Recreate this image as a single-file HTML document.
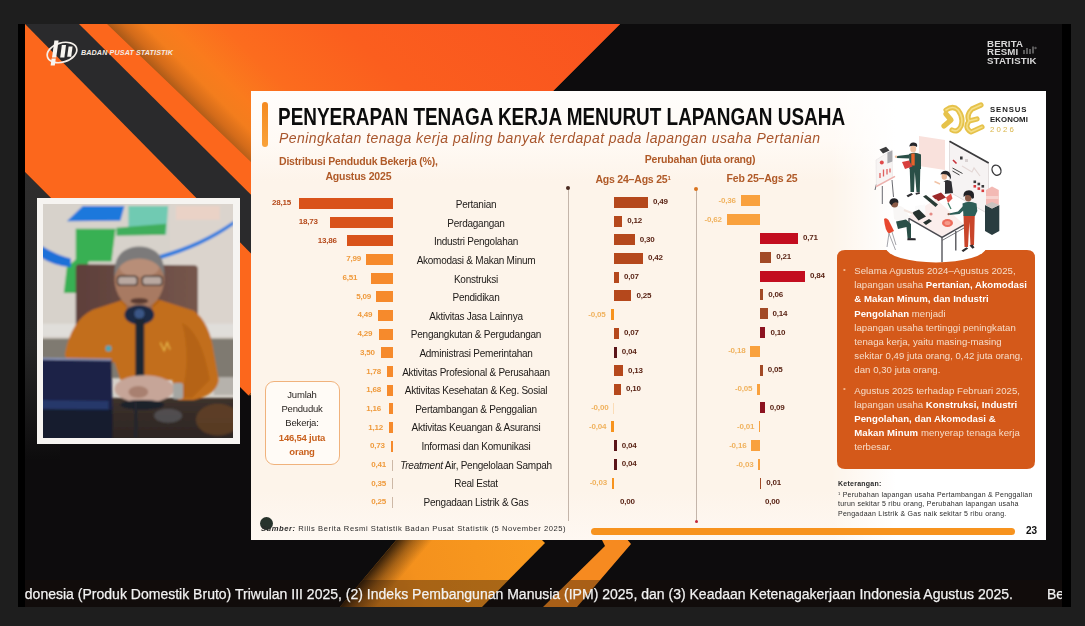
<!DOCTYPE html>
<html><head><meta charset="utf-8"><title>BPS</title>
<style>
*{margin:0;padding:0;box-sizing:border-box}
html,body{width:1085px;height:626px;overflow:hidden;background:#1e1e1e}
body{position:relative;font-family:"Liberation Sans",sans-serif}
.abs{position:absolute}
#bg{position:absolute;left:0;top:0}
#slide{position:absolute;left:251px;top:91px;width:795px;height:449px;background:linear-gradient(#fffdfb 0,#fffaf5 50px,#fdf4ea 90px,#fdf4ea 400px,#fef8f2 449px);overflow:hidden}
#chart{position:absolute;left:0;top:0;width:1085px;height:626px;filter:blur(0.6px)}
.b{position:absolute;height:11px}
.v{position:absolute;font-size:8px;font-weight:bold;line-height:10px;white-space:nowrap;letter-spacing:-0.2px}
.v.r{text-align:right}
.lab{position:absolute;left:376px;width:200px;text-align:center;font-size:10px;line-height:13px;color:#1d1a18;white-space:nowrap;letter-spacing:-0.25px}
.t{position:absolute;white-space:nowrap}
</style></head><body>
<svg id="bg" width="1085" height="626" viewBox="0 0 1085 626">
<defs>
<linearGradient id="gfold" gradientUnits="userSpaceOnUse" x1="107" y1="24" x2="367" y2="-236">
<stop offset="0" stop-color="#a85818"/><stop offset="0.03" stop-color="#d36b1a"/><stop offset="0.07" stop-color="#f37d1d"/><stop offset="0.12" stop-color="#fa7b1d"/><stop offset="0.22" stop-color="#fc6c1e"/><stop offset="0.45" stop-color="#fb5e1e"/><stop offset="1" stop-color="#f9531f"/>
</linearGradient>
<linearGradient id="gleft" x1="0" y1="0" x2="0" y2="1"><stop offset="0" stop-color="#2e2d2d"/><stop offset="0.6" stop-color="#262626"/><stop offset="1" stop-color="#0d0c0d"/></linearGradient>
<linearGradient id="gshad" gradientUnits="userSpaceOnUse" x1="398" y1="538" x2="419.4" y2="556"><stop offset="0" stop-color="#140c06" stop-opacity="0.85"/><stop offset="0.5" stop-color="#3a220c" stop-opacity="0.4"/><stop offset="1" stop-color="#3a220c" stop-opacity="0"/></linearGradient>
<linearGradient id="gchev" gradientUnits="userSpaceOnUse" x1="350" y1="600" x2="540" y2="540"><stop offset="0" stop-color="#d97e1a"/><stop offset="0.35" stop-color="#f4911d"/><stop offset="1" stop-color="#fa9b1f"/></linearGradient>
</defs>
<rect x="18" y="24" width="1053" height="583" fill="#0d0c0d"/>
<polygon points="25,172 60,207 60,460 25,460" fill="url(#gleft)"/>
<polygon points="25,24 620,24 248.5,395.5 25,172" fill="#fc671c"/>
<polygon points="107,24 620,24 248.5,395.5 252,395 252,163" fill="url(#gfold)"/>
<polygon points="25,24 79,24 252,195.7 252,254.4" fill="#2a2a2c"/>
<rect x="25" y="178" width="230" height="430" fill="none"/>
<!-- bottom chevrons -->
<polygon points="398,538 540,538 545,543 482,607 340,607" fill="url(#gchev)"/>
<polygon points="398,538 440,538 382,607 340,607" fill="url(#gshad)"/>
<polygon points="601,538 626,538 631,544 577,607 543,607 605,546" fill="#f68a20"/>
<rect x="25" y="580" width="1037" height="27" fill="#1a0f08" opacity="0.35"/>
<rect x="18" y="24" width="7" height="583" fill="#000"/>
<rect x="1062" y="24" width="9" height="583" fill="#000"/>
</svg>

<!-- BPS logo text -->
<div class="t" style="left:81px;top:47.5px;font-size:7.2px;line-height:9px;font-weight:bold;font-style:italic;color:#f3ece6;letter-spacing:0.1px">BADAN PUSAT STATISTIK</div>
<svg class="abs" style="left:45px;top:38.5px" width="34" height="28" viewBox="0 0 34 28">
<ellipse cx="17" cy="13.5" rx="15.2" ry="9.6" fill="none" stroke="#f4efe9" stroke-width="1.7" transform="rotate(-17 17 13.5)"/>
<g fill="#f8f5f0"><polygon points="9.4,1.6 13.6,1.6 11.2,18.6 7,18.6"/><polygon points="16.8,6 21,6 19.4,18.6 15.2,18.6"/><polygon points="23.6,7.4 27.6,7.4 26.2,17.8 22.2,17.8"/><polygon points="6.6,19.6 10.8,19.6 9.8,26.6 5.6,26.6"/></g>
</svg>

<!-- BRS logo -->
<div class="t" style="left:987px;top:39.6px;font-size:8.6px;line-height:8.8px;font-weight:bold;color:#d8d8d8;letter-spacing:0.1px;transform-origin:0 0;transform:scaleX(1.13)" id="brs">BERITA<br>RESMI<br>STATISTIK</div>

<svg class="abs" style="left:1022px;top:45px" width="16" height="11" viewBox="0 0 16 11"><g fill="#5a5a5a"><rect x="1" y="5" width="2" height="4"/><rect x="4" y="3" width="2" height="6"/><rect x="7" y="4" width="2" height="5"/><rect x="10" y="1.5" width="2" height="7"/><circle cx="13.5" cy="3" r="1.2"/></g></svg>
<!-- webcam -->
<div class="abs" style="left:36.5px;top:197.5px;width:203.5px;height:246.5px;background:#f6f4f1"></div>
<svg class="abs" style="left:42.8px;top:203.6px" width="190.7" height="234.5" viewBox="0 0 192 237" preserveAspectRatio="none">
<defs><filter id="bl" x="-5%" y="-5%" width="110%" height="110%"><feGaussianBlur stdDeviation="1.1"/></filter>
<linearGradient id="gchair" x1="0" y1="0" x2="1" y2="0"><stop offset="0" stop-color="#5d3f3a"/><stop offset="1" stop-color="#76564c"/></linearGradient>
<linearGradient id="gtable" x1="0" y1="0" x2="0" y2="1"><stop offset="0" stop-color="#3d312c"/><stop offset="1" stop-color="#2a2421"/></linearGradient>
<clipPath id="cc"><rect width="192" height="237"/></clipPath>
</defs>
<rect width="192" height="237" fill="#d6d1ca"/>
<g filter="url(#bl)" clip-path="url(#cc)">
<rect x="-5" y="-5" width="202" height="150" fill="#d7d2cb"/>
<rect x="128" y="-5" width="70" height="140" fill="#dbd4cd"/>
<rect x="134" y="2" width="44" height="14" fill="#ead2c6"/>
<!-- logo pieces -->
<polygon points="40,2 82,2 78,17 24,17.5" fill="#1f78dc"/>
<polygon points="86,2 126,2 124,31 86,31" fill="#6fcab2"/>
<polygon points="74,24 124,20 123,31 74,32" fill="#3fae5c"/>
<polygon points="33,25 73,25 69,58 33,58" fill="#37b052"/>
<polygon points="33,56 47,56 33,90 21,90 24,64" fill="#37b052"/>
<path d="M-2,42 Q14,52 28,55 L28,64 Q10,62 -2,54Z" fill="#1c70d8"/>
<path d="M116,52 Q160,40 192,17 L192,21 Q160,44 117,56Z" fill="#2a7cde"/>
<!-- ledge & lower wall -->
<rect x="-5" y="121" width="202" height="13" fill="#e0deda"/>
<rect x="-5" y="136" width="202" height="40" fill="#7f7a71"/>
<rect x="172" y="175" width="25" height="18" fill="#b6b2ac"/>
<!-- chair -->
<path d="M33,64 Q33,61 37,61 L152,62 Q156,62 156,66 L156,160 L33,160Z" fill="url(#gchair)"/>
<!-- table -->
<rect x="-5" y="196" width="202" height="46" fill="url(#gtable)"/>
<ellipse cx="176" cy="218" rx="22" ry="16" fill="#7a4a24" opacity="0.55"/>
<ellipse cx="126" cy="214" rx="14" ry="7" fill="#6c7078" opacity="0.5"/>
<!-- shirt -->
<path d="M22,152 Q28,118 50,107 L80,97 L118,97 L152,108 Q168,120 172,150 L177,178 Q175,193 152,198 L136,198 L130,178 L78,178 L72,160 L24,158Z" fill="#c26e1b"/>
<path d="M140,120 Q160,130 168,178 L150,196 L138,196 Q150,160 140,120Z" fill="#b56416"/>
<path d="M78,98 L96,118 L118,98 L110,92 L84,92Z" fill="#b3620f"/>
<path d="M118,140 l4,8 l3,-8 l3,7" stroke="#e8b84a" stroke-width="1.2" fill="none"/>
<circle cx="66" cy="146" r="3" fill="#4aa6b8"/>
<!-- neck / head -->
<rect x="84" y="92" width="26" height="14" fill="#9a6c54"/>
<ellipse cx="97" cy="76" rx="25" ry="30" fill="#a87a62"/>
<ellipse cx="97" cy="64" rx="20" ry="10" fill="#b88e78"/>
<path d="M72,74 Q70,44 97,43 Q124,44 122,74 Q118,56 97,55 Q76,56 72,74Z" fill="#7c7a7a"/>
<rect x="75" y="73" width="20" height="9" rx="3" fill="#b9a8a0" stroke="#3e302c" stroke-width="1.4"/>
<rect x="100" y="73" width="20" height="9" rx="3" fill="#b9a8a0" stroke="#3e302c" stroke-width="1.4"/>
<ellipse cx="97" cy="98" rx="9" ry="3" fill="#5a3a30"/>
<!-- mic -->
<ellipse cx="97" cy="112" rx="15" ry="10" fill="#1f2a44"/>
<ellipse cx="97" cy="111" rx="5" ry="5" fill="#3a5686"/>
<rect x="93" y="116" width="9" height="60" fill="#1e2532"/>
<!-- hands -->
<ellipse cx="102" cy="187" rx="30" ry="14" fill="#c6a598"/>
<ellipse cx="96" cy="190" rx="10" ry="6" fill="#a88070"/>
<rect x="131" y="181" width="10" height="16" rx="2" fill="#a4a6a2"/>
<ellipse cx="100" cy="203" rx="22" ry="5" fill="#1e222c"/>
<rect x="92" y="200" width="3" height="36" fill="#23262e"/>
<!-- tablet -->
<polygon points="-3,156 69,157 70,208 -3,208" fill="#1a2346"/>
<polygon points="-3,155.5 69,156.5 69,158.5 -3,157.5" fill="#8a94b8"/>
<polygon points="-3,198 66,199 66,208 -3,207" fill="#25376a"/>
<polygon points="-3,208 70,208 70,240 -3,240" fill="#141a2e"/>
</g>
</svg>

<div id="slide">
<div class="abs" style="left:580px;top:0;width:215px;height:449px;background:linear-gradient(90deg,rgba(255,255,255,0),#fff 30%)"></div>
</div>
<div id="chart">
<!-- title -->
<div class="abs" style="left:262px;top:102px;width:6px;height:45px;border-radius:3px;background:linear-gradient(#f58a1f,#f9a23a)"></div>
<div id="title" class="t" style="left:278px;top:102px;font-size:24px;line-height:30px;font-weight:bold;color:#0c0c0c;transform-origin:0 0;transform:scaleX(0.789)">PENYERAPAN TENAGA KERJA MENURUT LAPANGAN USAHA</div>
<div id="sub" class="t" style="left:279px;top:129px;font-size:14px;line-height:18px;font-style:italic;color:#a8552c;letter-spacing:0.45px">Peningkatan tenaga kerja paling banyak terdapat pada lapangan usaha Pertanian</div>
<div class="t" style="left:279px;top:154px;font-size:10.5px;line-height:15px;font-weight:bold;color:#b05a28;text-align:center;letter-spacing:-0.2px" id="dist">Distribusi Penduduk Bekerja (%),<br>Agustus 2025</div>
<div id="per" class="t" style="left:640px;top:153px;width:120px;text-align:center;font-size:10.5px;line-height:13px;font-weight:bold;color:#b05a28;letter-spacing:-0.2px">Perubahan (juta orang)</div>
<div id="h1" class="t" style="left:583px;top:172px;width:100px;text-align:center;font-size:10.5px;line-height:13px;font-weight:bold;color:#b05a28;letter-spacing:-0.2px">Ags 24–Ags 25<span style="font-size:6px;vertical-align:3px">1</span></div>
<div id="h2" class="t" style="left:712px;top:172px;width:100px;text-align:center;font-size:10.5px;line-height:13px;font-weight:bold;color:#b05a28;letter-spacing:-0.2px">Feb 25–Ags 25</div>
<!-- separators -->
<div class="abs" style="left:567.5px;top:188px;width:1px;height:333px;background:#c4b5aa"></div>
<div class="abs" style="left:566px;top:185.5px;width:4px;height:4px;border-radius:2px;background:#4a2a20"></div>
<div class="abs" style="left:695.5px;top:190px;width:1px;height:331px;background:#c4b5aa"></div>
<div class="abs" style="left:694px;top:187px;width:4px;height:4px;border-radius:2px;background:#d9731e"></div>
<div class="abs" style="left:694.5px;top:519.5px;width:3px;height:3px;border-radius:2px;background:#c2283a"></div>
<div class="b" style="left:299.0px;top:197.8px;width:94.0px;background:#d9531a"></div>
<div class="v r" style="left:251.1px;top:198.3px;width:40px;color:#b5491a">28,15</div>
<div class="lab" style="top:198.2px">Pertanian</div>
<div class="b" style="left:614px;top:196.8px;width:34.0px;background:#b5481c"></div>
<div class="v" style="left:653.0px;top:197.3px;color:#5a2416">0,49</div>
<div class="b" style="left:740.7px;top:195.2px;width:19.3px;background:#f9a13e"></div>
<div class="v r" style="left:695.7px;top:195.7px;width:40px;color:#f0b25e">-0,36</div>
<div class="b" style="left:330.4px;top:216.5px;width:62.6px;background:#d9531a"></div>
<div class="v r" style="left:277.8px;top:217.0px;width:40px;color:#b5491a">18,73</div>
<div class="lab" style="top:216.8px">Perdagangan</div>
<div class="b" style="left:614px;top:215.5px;width:8.3px;background:#b5481c"></div>
<div class="v" style="left:627.3px;top:216.0px;color:#5a2416">0,12</div>
<div class="b" style="left:726.8px;top:214.0px;width:33.2px;background:#f9a13e"></div>
<div class="v r" style="left:681.8px;top:214.5px;width:40px;color:#f0b25e">-0,62</div>
<div class="b" style="left:346.7px;top:235.2px;width:46.3px;background:#d9531a"></div>
<div class="v r" style="left:296.8px;top:235.7px;width:40px;color:#b5491a">13,86</div>
<div class="lab" style="top:235.4px">Industri Pengolahan</div>
<div class="b" style="left:614px;top:234.2px;width:20.8px;background:#b5481c"></div>
<div class="v" style="left:639.8px;top:234.7px;color:#5a2416">0,30</div>
<div class="b" style="left:760px;top:232.9px;width:38.0px;background:#c30d1f"></div>
<div class="v" style="left:803.0px;top:233.4px;color:#5a2416">0,71</div>
<div class="b" style="left:366.3px;top:253.9px;width:26.7px;background:#f68a2c"></div>
<div class="v r" style="left:321.0px;top:254.4px;width:40px;color:#ef9a3c">7,99</div>
<div class="lab" style="top:254.0px">Akomodasi &amp; Makan Minum</div>
<div class="b" style="left:614px;top:252.9px;width:29.1px;background:#b5481c"></div>
<div class="v" style="left:648.1px;top:253.4px;color:#5a2416">0,42</div>
<div class="b" style="left:760px;top:251.7px;width:11.2px;background:#a24a26"></div>
<div class="v" style="left:776.2px;top:252.2px;color:#5a2416">0,21</div>
<div class="b" style="left:371.3px;top:272.6px;width:21.7px;background:#f68a2c"></div>
<div class="v r" style="left:317.2px;top:273.1px;width:40px;color:#ef9a3c">6,51</div>
<div class="lab" style="top:272.6px">Konstruksi</div>
<div class="b" style="left:614px;top:271.6px;width:4.9px;background:#b5481c"></div>
<div class="v" style="left:623.9px;top:272.1px;color:#5a2416">0,07</div>
<div class="b" style="left:760px;top:270.6px;width:44.9px;background:#c30d1f"></div>
<div class="v" style="left:809.9px;top:271.1px;color:#5a2416">0,84</div>
<div class="b" style="left:376.0px;top:291.2px;width:17.0px;background:#f68a2c"></div>
<div class="v r" style="left:331.0px;top:291.8px;width:40px;color:#ef9a3c">5,09</div>
<div class="lab" style="top:291.1px">Pendidikan</div>
<div class="b" style="left:614px;top:290.4px;width:17.4px;background:#b5481c"></div>
<div class="v" style="left:636.4px;top:290.9px;color:#5a2416">0,25</div>
<div class="b" style="left:760px;top:289.4px;width:3.2px;background:#a24a26"></div>
<div class="v" style="left:768.2px;top:289.9px;color:#5a2416">0,06</div>
<div class="b" style="left:378.0px;top:309.9px;width:15.0px;background:#f68a2c"></div>
<div class="v r" style="left:332.2px;top:310.4px;width:40px;color:#ef9a3c">4,49</div>
<div class="lab" style="top:309.7px">Aktivitas Jasa Lainnya</div>
<div class="b" style="left:610.5px;top:309.1px;width:3.5px;background:#f7931e;opacity:1"></div>
<div class="v r" style="left:565.5px;top:309.6px;width:40px;color:#f0b25e">-0,05</div>
<div class="b" style="left:760px;top:308.2px;width:7.5px;background:#a24a26"></div>
<div class="v" style="left:772.5px;top:308.7px;color:#5a2416">0,14</div>
<div class="b" style="left:378.7px;top:328.6px;width:14.3px;background:#f68a2c"></div>
<div class="v r" style="left:332.2px;top:329.1px;width:40px;color:#ef9a3c">4,29</div>
<div class="lab" style="top:328.3px">Pengangkutan &amp; Pergudangan</div>
<div class="b" style="left:614px;top:327.8px;width:4.9px;background:#b5481c"></div>
<div class="v" style="left:623.9px;top:328.3px;color:#5a2416">0,07</div>
<div class="b" style="left:760px;top:327.1px;width:5.4px;background:#8c1220"></div>
<div class="v" style="left:770.4px;top:327.6px;color:#5a2416">0,10</div>
<div class="b" style="left:381.3px;top:347.3px;width:11.7px;background:#f68a2c"></div>
<div class="v r" style="left:334.7px;top:347.8px;width:40px;color:#ef9a3c">3,50</div>
<div class="lab" style="top:346.9px">Administrasi Pemerintahan</div>
<div class="b" style="left:614px;top:346.5px;width:2.8px;background:#5a1418"></div>
<div class="v" style="left:621.8px;top:347.0px;color:#5a2416">0,04</div>
<div class="b" style="left:750.4px;top:345.9px;width:9.6px;background:#f9a13e"></div>
<div class="v r" style="left:705.4px;top:346.4px;width:40px;color:#f0b25e">-0,18</div>
<div class="b" style="left:387.1px;top:366.0px;width:5.9px;background:#f68a2c"></div>
<div class="v r" style="left:341.0px;top:366.5px;width:40px;color:#ef9a3c">1,78</div>
<div class="lab" style="top:365.5px">Aktivitas Profesional &amp; Perusahaan</div>
<div class="b" style="left:614px;top:365.2px;width:9.0px;background:#b5481c"></div>
<div class="v" style="left:628.0px;top:365.7px;color:#5a2416">0,13</div>
<div class="b" style="left:760px;top:364.8px;width:2.7px;background:#a24a26"></div>
<div class="v" style="left:767.7px;top:365.3px;color:#5a2416">0,05</div>
<div class="b" style="left:387.4px;top:384.7px;width:5.6px;background:#f68a2c"></div>
<div class="v r" style="left:341.0px;top:385.2px;width:40px;color:#ef9a3c">1,68</div>
<div class="lab" style="top:384.1px">Aktivitas Kesehatan &amp; Keg. Sosial</div>
<div class="b" style="left:614px;top:383.9px;width:6.9px;background:#b5481c"></div>
<div class="v" style="left:625.9px;top:384.4px;color:#5a2416">0,10</div>
<div class="b" style="left:757.3px;top:383.6px;width:2.7px;background:#f9a13e"></div>
<div class="v r" style="left:712.3px;top:384.1px;width:40px;color:#f0b25e">-0,05</div>
<div class="b" style="left:389.1px;top:403.4px;width:3.9px;background:#f68a2c"></div>
<div class="v r" style="left:341.0px;top:403.9px;width:40px;color:#ef9a3c">1,16</div>
<div class="lab" style="top:402.7px">Pertambangan &amp; Penggalian</div>
<div class="b" style="left:613.4px;top:402.6px;width:0.6px;background:#f7931e;opacity:0.25"></div>
<div class="v r" style="left:568.4px;top:403.1px;width:40px;color:#f0b25e">-0,00</div>
<div class="b" style="left:760px;top:402.4px;width:4.8px;background:#8c1220"></div>
<div class="v" style="left:769.8px;top:402.9px;color:#5a2416">0,09</div>
<div class="b" style="left:389.3px;top:422.1px;width:3.7px;background:#f68a2c"></div>
<div class="v r" style="left:343.0px;top:422.6px;width:40px;color:#ef9a3c">1,12</div>
<div class="lab" style="top:421.3px">Aktivitas Keuangan &amp; Asuransi</div>
<div class="b" style="left:611.2px;top:421.3px;width:2.8px;background:#f7931e;opacity:1"></div>
<div class="v r" style="left:566.2px;top:421.8px;width:40px;color:#f0b25e">-0,04</div>
<div class="b" style="left:759.2px;top:421.3px;width:0.8px;background:#f9a13e"></div>
<div class="v r" style="left:714.2px;top:421.8px;width:40px;color:#f0b25e">-0,01</div>
<div class="b" style="left:390.6px;top:440.8px;width:2.4px;background:#f68a2c"></div>
<div class="v r" style="left:344.7px;top:441.3px;width:40px;color:#ef9a3c">0,73</div>
<div class="lab" style="top:439.9px">Informasi dan Komunikasi</div>
<div class="b" style="left:614px;top:440.0px;width:2.8px;background:#5a1418"></div>
<div class="v" style="left:621.8px;top:440.5px;color:#5a2416">0,04</div>
<div class="b" style="left:751.4px;top:440.1px;width:8.6px;background:#f9a13e"></div>
<div class="v r" style="left:706.4px;top:440.6px;width:40px;color:#f0b25e">-0,16</div>
<div class="b" style="left:391.6px;top:459.5px;width:1.4px;background:#cdb8a6"></div>
<div class="v r" style="left:346.0px;top:460.0px;width:40px;color:#ef9a3c">0,41</div>
<div class="lab" style="top:458.5px"><i>Treatment</i> Air, Pengelolaan Sampah</div>
<div class="b" style="left:614px;top:458.7px;width:2.8px;background:#5a1418"></div>
<div class="v" style="left:621.8px;top:459.2px;color:#5a2416">0,04</div>
<div class="b" style="left:758.4px;top:459.0px;width:1.6px;background:#f9a13e"></div>
<div class="v r" style="left:713.4px;top:459.5px;width:40px;color:#f0b25e">-0,03</div>
<div class="b" style="left:391.8px;top:478.2px;width:1.2px;background:#cdb8a6"></div>
<div class="v r" style="left:346.0px;top:478.7px;width:40px;color:#ef9a3c">0,35</div>
<div class="lab" style="top:477.1px">Real Estat</div>
<div class="b" style="left:611.9px;top:477.5px;width:2.1px;background:#f7931e;opacity:1"></div>
<div class="v r" style="left:566.9px;top:478.0px;width:40px;color:#f0b25e">-0,03</div>
<div class="b" style="left:760px;top:477.8px;width:1.2px;background:#a24a26"></div>
<div class="v" style="left:766.2px;top:478.3px;color:#5a2416">0,01</div>
<div class="b" style="left:391.8px;top:496.8px;width:1.2px;background:#cdb8a6"></div>
<div class="v r" style="left:346.0px;top:497.3px;width:40px;color:#ef9a3c">0,25</div>
<div class="lab" style="top:495.6px">Pengadaan Listrik &amp; Gas</div>
<div class="v" style="left:620.0px;top:496.7px;color:#5a2416">0,00</div>
<div class="v" style="left:765.0px;top:497.1px;color:#5a2416">0,00</div>
<!-- jumlah box -->
<div class="abs" style="left:264.5px;top:381px;width:75px;height:84px;border:1px solid #f0b27c;border-radius:9px;background:#fffbf6"></div>
<div class="t" style="left:264.5px;top:388px;width:75px;text-align:center;font-size:9.5px;line-height:14.2px;color:#2a2522;letter-spacing:-0.2px">Jumlah<br>Penduduk<br>Bekerja:<br><b style="color:#c9601c">146,54 juta<br>orang</b></div>
<!-- source -->
<div class="abs" style="left:259.5px;top:517px;width:13px;height:13px;border-radius:7px;background:#27332c"></div>
<div class="t" style="left:261px;top:524px;font-size:7.6px;line-height:9px;color:#2a2a2a;letter-spacing:0.55px" id="src"><b><i>Sumber:</i></b> Rilis Berita Resmi Statistik Badan Pusat Statistik (5 November 2025)</div>
<!-- progress -->
<div class="abs" style="left:591px;top:527.5px;width:424px;height:7px;border-radius:3.5px;background:#f7931e"></div>
<div class="t" style="left:1026px;top:524.5px;font-size:10px;line-height:12px;font-weight:bold;color:#111">23</div>

<!-- sensus ekonomi -->
<svg class="abs" style="left:936px;top:100px" width="52" height="40" viewBox="936 100 52 40">
<g fill="none" stroke="#e6c24a" stroke-width="5.2" stroke-linecap="round" stroke-linejoin="round">
<path d="M946,110 Q953,105 958,110 Q964,118 961,126 Q958,133 952,130"/>
<path d="M944,126 L951,120 L946,114"/>
<path d="M981,105 L972,109 Q966,115 969,121 L977,119 M969,121 Q964,128 971,132 L982,127"/>
</g>
<g fill="none" stroke="#f4de86" stroke-width="1.6" stroke-linecap="round" stroke-linejoin="round">
<path d="M946,110 Q953,105 958,110 Q964,118 961,126 Q958,133 952,130"/>
<path d="M981,105 L972,109 Q966,115 969,121 L977,119 M969,121 Q964,128 971,132 L982,127"/>
</g>
</svg>
<div class="t" style="left:990px;top:105px;font-size:7.8px;line-height:10px;font-weight:bold;color:#1b1b1b;letter-spacing:0.9px">SENSUS<br><span style="letter-spacing:0.1px">EKONOMI</span><br><span style="color:#d9b64a;letter-spacing:2.2px;font-weight:normal">2026</span></div>

<!-- orange text box -->
<svg class="abs" style="left:830px;top:135px" width="216" height="340" viewBox="830 135 216 340">
<path d="M845,250 H1027 Q1035,250 1035,258 V461 Q1035,469 1027,469 H845 Q837,469 837,461 V258 Q837,250 845,250Z" fill="#d4591a"/>
<defs><filter id="ib" x="-5%" y="-5%" width="110%" height="110%"><feGaussianBlur stdDeviation="0.35"/></filter></defs><ellipse cx="936" cy="247.5" rx="50" ry="15" fill="#ffffff"/>
<!--ILLU0--><g filter="url(#ib)">
<!-- pink panel -->
<polygon points="919,136 945,140 945,170 919,166" fill="#f9e1dc"/>
<!-- big whiteboard -->
<polygon points="949.5,141.5 988.5,163 988.5,214 949.5,192" fill="#f6f3f3"/>
<polygon points="949.5,141.5 988.5,163 988.5,214 949.5,192" fill="none" stroke="#dcd6d6" stroke-width="0.8"/>
<line x1="949.5" y1="141.2" x2="988.7" y2="163" stroke="#3a3a3c" stroke-width="1.8"/>
<rect x="960" y="156.5" width="2.6" height="3" fill="#3a3a3c"/>
<rect x="965" y="159" width="3" height="3" fill="#d9d2d2"/>
<path d="M953,160 l3.5,3.5" stroke="#c8323a" stroke-width="1.6"/>
<path d="M952.5,168 l10,5.5 M952.5,171 l7,4" stroke="#444" stroke-width="1"/>
<path d="M962,166 l10,6 l2,-4 l6,8" stroke="#e4d8d6" stroke-width="1.2" fill="none"/>
<g fill="#3b3b3d"><rect x="973.5" y="180.5" width="2.6" height="2.6"/><rect x="977.5" y="182.7" width="2.6" height="2.6"/><rect x="981.5" y="185" width="2.6" height="2.6"/></g>
<g fill="#d63a3e"><rect x="973.5" y="185" width="2.6" height="2.6"/><rect x="977.5" y="187.3" width="2.6" height="2.6"/><rect x="981.5" y="189.5" width="2.6" height="2.6"/></g>
<!-- clock -->
<ellipse cx="996.5" cy="170.2" rx="4.3" ry="5.2" fill="#fff" stroke="#3a3a3c" stroke-width="1.4" transform="rotate(-25 996.5 170.2)"/>
<!-- easel -->
<path d="M882.3,186 V204 M892,180 L893.5,197 M876.5,184 L875,190" stroke="#6a6a70" stroke-width="1"/>
<polygon points="876,160 892,150 892.5,178 876.5,187" fill="#f7f4f3" stroke="#e6e0e0" stroke-width="0.6"/>
<polygon points="879.5,149.5 886,146.8 889.5,150.5 883,153.5" fill="#3a3a3c"/>
<polygon points="887.4,152.5 892.4,150.5 892.4,161.5 887.4,163.5" fill="#a9a9ad"/>
<circle cx="881.8" cy="162.4" r="2" fill="#e04a4a"/>
<path d="M880,178 v-5 M883.5,176.5 v-7 M887,174.5 v-5.5 M890,172.5 v-4" stroke="#e0605e" stroke-width="1.3"/>
<line x1="876" y1="186.6" x2="895" y2="176.4" stroke="#eeb0ac" stroke-width="1.6"/>
<!-- man standing -->
<path d="M909.7,168 L910.5,192 L914,192 L914.8,172 L916.5,192 L919.8,192 L920.3,168Z" fill="#2c4f47"/>
<path d="M906.5,195.5 l5,-2.5 l1.5,1.5 l-5,2.8Z M915.5,193 l4,-1 l0.5,1.8 l-4,1Z" fill="#2d2d30"/>
<path d="M909,154 Q915,151.5 921,154.5 L921,169 L909.5,169Z" fill="#2c4f47"/>
<rect x="911.3" y="153.5" width="3.4" height="12" fill="#e8632c"/>
<path d="M909.5,154.5 L897,156 L896.5,158 L909.5,158.5Z" fill="#2c4f47"/>
<circle cx="896" cy="156.8" r="1.2" fill="#f1c3a6"/>
<ellipse cx="913.2" cy="148.8" rx="3" ry="3.6" fill="#f1c3a6"/>
<path d="M909.3,146.5 Q910,142 914,142.6 Q918,143 917,147 Q914,145 909.3,146.5Z" fill="#26272b"/>
<polygon points="902,162 909,160.5 912.5,166.5 905,169" fill="#d8413c"/>
<!-- woman seated -->
<path d="M943.5,181.5 Q947,178.5 951.5,181.5 L953,193 L944,194Z" fill="#2d2f33"/>
<path d="M940,182 Q943,180.5 945,182 L945,194 L940,193Z" fill="#fbfbfb"/>
<path d="M940,184 L934.5,181.5" stroke="#f1c3a6" stroke-width="1.4"/>
<ellipse cx="944.3" cy="176.5" rx="2.7" ry="3.2" fill="#e9b798"/>
<path d="M940.5,174.5 Q942,170 947,171 Q951.5,172.5 951,179.5 Q949,176 946.5,174.5 Q943,173.5 940.5,174.5Z" fill="#26272b"/>
<polygon points="932,196 941,192.5 946,197.5 937.5,201.5" fill="#9c2a2c"/>
<polygon points="946,197.5 951,193.5 952.5,198.5 948,203" fill="#e2564d"/>
<path d="M948,203 l3,6" stroke="#3d7a66" stroke-width="1.2"/>
<!-- desk -->
<polygon points="907.5,217 936,199 964,224.5 942,237" fill="#fbeeec"/>
<path d="M907.5,217.6 L942,237.4 L964,224.8" fill="none" stroke="#4a4a50" stroke-width="1.5"/>
<path d="M942,237.4 V262 M955.8,231 V250.5 M909,219 V232" stroke="#4a4a50" stroke-width="1.3"/>
<path d="M942,240.5 L964,228" stroke="#6a6a70" stroke-width="0.9"/>
<!-- laptops -->
<polygon points="923,196.5 926,195 938,204.5 935.5,207" fill="#2a3a36"/>
<polygon points="915,206 925,204.5 925.5,214 915.5,213" fill="#fbfbfb"/>
<polygon points="912,212.5 919,209.5 926,216.5 918.5,220.5" fill="#25302e"/>
<polygon points="923,222.5 929,219 932,221 926,225" fill="#25302e"/>
<ellipse cx="947.5" cy="223" rx="5.5" ry="4" fill="#ee6c5c"/>
<ellipse cx="947.5" cy="223" rx="3" ry="2" fill="#f59a8a"/>
<circle cx="931" cy="214" r="1.6" fill="#e58b86"/>
<!-- seated man -->
<path d="M884,219 Q886,217 888.5,220 L894,231 L889,233.5 Q885,231 884,219Z" fill="#e8472f"/>
<path d="M889,233 L887,247 M892,232 L896,245 M889,233.5 L895.5,250" stroke="#8e8e96" stroke-width="0.8"/>
<path d="M893,207 Q899,204 904,208 L910,217.5 L905,220.5 L899,222 L894,219Z" fill="#f8f6f5"/>
<path d="M904,210 L913,213.5" stroke="#f1e4de" stroke-width="2"/>
<path d="M896,221.5 L906,219.5 L911,224 L911,238 L907.5,238 L906.5,227 L898,229Z" fill="#2c4f47"/>
<path d="M907.5,238 l8,0.3 l0.3,2 l-8.5,0Z" fill="#26272b"/>
<ellipse cx="894.6" cy="203.5" rx="3.6" ry="4" fill="#8a5a46"/>
<path d="M889.3,203 Q889.5,198 894.5,198.2 Q899,198.6 898.3,203 Q894,200.8 891.5,205.5Z" fill="#232428"/>
<!-- man right -->
<path d="M963.5,214.5 L964.5,247 L968,247 L969.3,222 L970.5,246 L974,245 L974.8,214.5Z" fill="#c9452c"/>
<path d="M961.5,250.5 l5,-3.3 l1.7,1.4 l-5,3.4Z M969.5,245.5 l3,-1 l2,3 l-2,1.2Z" fill="#2d2d30"/>
<path d="M962.5,203.5 Q969,200 976.5,203.5 L977.3,211 L975,216 L963.5,216Z" fill="#2f5f59"/>
<path d="M964,205 L958,211.5 L949,213.5 L949.5,215 L959.5,214 L965,209Z" fill="#2f5f59"/>
<circle cx="948.6" cy="214.2" r="1.1" fill="#8a5a46"/>
<ellipse cx="968.3" cy="197.8" rx="3.3" ry="3.8" fill="#8a5a46"/>
<path d="M963.5,197 Q962.8,190.5 969,190.3 Q975,190.5 974,197.5 Q972,200.5 970.5,196 Q967,193.5 963.5,197Z" fill="#232428"/>
<!-- water cooler -->
<polygon points="986,190 992,186.5 998.8,190 998.8,205 992,208 986,205" fill="#f3b9b4"/>
<polygon points="986,196 998.8,196 998.8,199 986,199" fill="#f7d3cf"/>
<polygon points="985,205 992,208.5 999.3,205 999.3,231 992,235 985,231" fill="#2b3d3f"/>
<polygon points="985,205 992,202 999.3,205 992,208.5" fill="#c9c2bf"/>
</g>
<!--ILLU1-->
</svg>
<div class="t" id="tx1" style="left:854.3px;top:264px;font-size:9.6px;line-height:14.2px;color:#f6dcc8;letter-spacing:0.04px">Selama Agustus 2024–Agustus 2025,<br>lapangan usaha <b style="color:#fff">Pertanian, Akomodasi</b><br><b style="color:#fff">&amp; Makan Minum, dan Industri</b><br><b style="color:#fff">Pengolahan</b> menjadi<br>lapangan usaha tertinggi peningkatan<br>tenaga kerja, yaitu masing-masing<br>sekitar 0,49 juta orang, 0,42 juta orang,<br>dan 0,30 juta orang.</div>
<div class="t" style="left:843px;top:262.5px;font-size:8px;line-height:14.2px;color:#f3b48a">•</div>
<div class="t" id="tx2" style="left:854.3px;top:383.5px;font-size:9.6px;line-height:14.2px;color:#f6dcc8;letter-spacing:0.04px">Agustus 2025 terhadap Februari 2025,<br>lapangan usaha <b style="color:#fff">Konstruksi, Industri</b><br><b style="color:#fff">Pengolahan, dan Akomodasi &amp;</b><br><b style="color:#fff">Makan Minum</b> menyerap tenaga kerja<br>terbesar.</div>
<div class="t" style="left:843px;top:382px;font-size:8px;line-height:14.2px;color:#f3b48a">•</div>
<div class="t" style="left:838px;top:479px;font-size:7px;line-height:9.6px;color:#2a2a2a;letter-spacing:0.25px" id="ket"><b>Keterangan:</b><br><span style="font-size:4px;vertical-align:2px">1</span> Perubahan lapangan usaha Pertambangan &amp; Penggalian<br>turun sekitar 5 ribu orang, Perubahan lapangan usaha<br>Pengadaan Listrik &amp; Gas naik sekitar 5 ribu orang.</div>
</div>

<!-- ticker -->
<div class="abs" style="left:25px;top:580px;width:1037px;height:27px;overflow:hidden">
<div id="tick" class="t" style="left:-7.8px;top:4.6px;-webkit-text-stroke:0.25px #f2f2f2;font-size:15.3px;line-height:18px;color:#f2f2f2;transform-origin:0 0;transform:scaleX(0.9165)">ndonesia (Produk Domestik Bruto) Triwulan III 2025, (2) Indeks Pembangunan Manusia (IPM) 2025, dan (3) Keadaan Ketenagakerjaan Indonesia Agustus 2025.</div>
<div class="t" style="left:1022px;top:4.6px;-webkit-text-stroke:0.25px #f2f2f2;font-size:15.3px;line-height:18px;color:#f2f2f2;transform-origin:0 0;transform:scaleX(0.9165)">Berita</div>
</div>
</body></html>
